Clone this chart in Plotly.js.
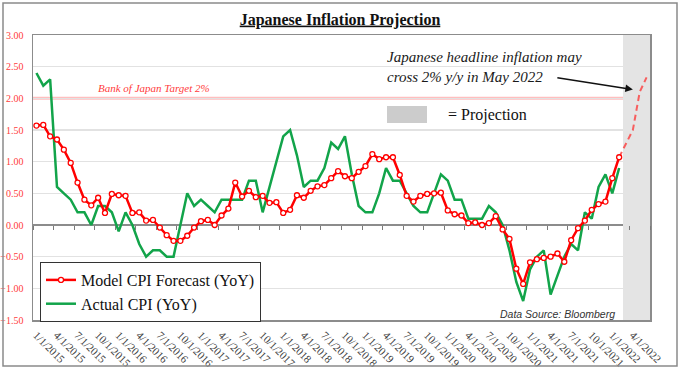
<!DOCTYPE html>
<html>
<head>
<meta charset="utf-8">
<script src="https://cdn.plot.ly/plotly-3.0.1.min.js"></script>
<style>html,body{margin:0;padding:0;background:#fff;}#chart{width:680px;height:368px;}</style>
</head>
<body>
<div id="chart"></div>
<script>
// Monthly categories, Jan 2015 .. Jun 2022
const categories = [
 "1/1/2015","2/1/2015","3/1/2015","4/1/2015","5/1/2015","6/1/2015","7/1/2015","8/1/2015","9/1/2015","10/1/2015","11/1/2015","12/1/2015",
 "1/1/2016","2/1/2016","3/1/2016","4/1/2016","5/1/2016","6/1/2016","7/1/2016","8/1/2016","9/1/2016","10/1/2016","11/1/2016","12/1/2016",
 "1/1/2017","2/1/2017","3/1/2017","4/1/2017","5/1/2017","6/1/2017","7/1/2017","8/1/2017","9/1/2017","10/1/2017","11/1/2017","12/1/2017",
 "1/1/2018","2/1/2018","3/1/2018","4/1/2018","5/1/2018","6/1/2018","7/1/2018","8/1/2018","9/1/2018","10/1/2018","11/1/2018","12/1/2018",
 "1/1/2019","2/1/2019","3/1/2019","4/1/2019","5/1/2019","6/1/2019","7/1/2019","8/1/2019","9/1/2019","10/1/2019","11/1/2019","12/1/2019",
 "1/1/2020","2/1/2020","3/1/2020","4/1/2020","5/1/2020","6/1/2020","7/1/2020","8/1/2020","9/1/2020","10/1/2020","11/1/2020","12/1/2020",
 "1/1/2021","2/1/2021","3/1/2021","4/1/2021","5/1/2021","6/1/2021","7/1/2021","8/1/2021","9/1/2021","10/1/2021","11/1/2021","12/1/2021",
 "1/1/2022","2/1/2022","3/1/2022","4/1/2022","5/1/2022","6/1/2022"
];
const tickLabels = [
 "1/1/2015","4/1/2015","7/1/2015","10/1/2015","1/1/2016","4/1/2016","7/1/2016","10/1/2016",
 "1/1/2017","4/1/2017","7/1/2017","10/1/2017","1/1/2018","4/1/2018","7/1/2018","10/1/2018",
 "1/1/2019","4/1/2019","7/1/2019","10/1/2019","1/1/2020","4/1/2020","7/1/2020","10/1/2020",
 "1/1/2021","4/1/2021","7/1/2021","10/1/2021","1/1/2022","4/1/2022"
];
// Model CPI Forecast (YoY), Jan 2015 .. Feb 2022
const modelCPI = [
 1.57,1.58,1.40,1.35,1.19,0.98,0.67,0.40,0.31,0.43,0.19,0.49,
 0.47,0.46,0.19,0.20,0.07,0.08,-0.04,-0.16,-0.25,-0.25,-0.17,-0.04,
 0.06,0.08,0.00,0.15,0.26,0.67,0.45,0.54,0.44,0.46,0.35,0.36,
 0.19,0.24,0.47,0.43,0.54,0.61,0.63,0.74,0.85,0.77,0.74,0.84,
 0.93,1.12,1.04,1.07,1.07,0.79,0.46,0.37,0.46,0.49,0.50,0.51,
 0.23,0.17,0.15,0.03,0.04,0.00,0.03,0.14,-0.07,-0.22,-0.69,-0.93,
 -0.59,-0.54,-0.52,-0.50,-0.45,-0.58,-0.24,-0.05,0.07,0.24,0.33,0.37,
 0.74,1.07
];
// Actual CPI (YoY), Jan 2015 .. Feb 2022
const actualCPI = [
 2.4,2.2,2.3,0.6,0.5,0.4,0.2,0.2,0.0,0.3,0.3,0.2,
 -0.1,0.2,0.0,-0.3,-0.5,-0.4,-0.4,-0.5,-0.5,0.0,0.5,0.3,
 0.4,0.3,0.2,0.4,0.4,0.4,0.4,0.7,0.7,0.2,0.6,1.0,
 1.4,1.5,1.1,0.6,0.7,0.7,0.9,1.3,1.2,1.4,0.8,0.3,
 0.2,0.2,0.5,0.9,0.7,0.7,0.5,0.3,0.2,0.2,0.5,0.8,
 0.7,0.4,0.4,0.1,0.1,0.1,0.3,0.2,0.0,-0.4,-0.9,-1.2,
 -0.7,-0.5,-0.4,-1.1,-0.8,-0.5,-0.3,-0.4,0.2,0.1,0.6,0.8,
 0.5,0.9
];
// Projection, Feb 2022 .. Jun 2022 (starts at last model value)
const projectionCPI = [1.07,1.28,1.50,2.10,2.33];
const bojTarget = 2.0;
const yMin = -1.5, yMax = 3.0;

const serif = "Liberation Serif, Times New Roman, serif";
const idx = (arr, start) => arr.map((_, i) => i + start);
const lastActual = modelCPI.length - 1;
const projX = idx(projectionCPI, lastActual);
const shadeX = categories.map((_, i) => i).filter(i => i > lastActual);
const tickvals = tickLabels.map(l => categories.indexOf(l));
const nCat = categories.length;

const traces = [
  { type: 'bar', x: shadeX, y: shadeX.map(() => yMax - yMin), base: yMin,
    width: 1, marker: { color: '#e4e4e4', line: { width: 0 } }, showlegend: false, hoverinfo: 'skip' },
  { type: 'scatter', mode: 'lines', name: 'Actual CPI (YoY)', x: idx(actualCPI, 0), y: actualCPI,
    line: { color: '#12a44a', width: 2.5 }, legendrank: 2 },
  { type: 'scatter', mode: 'lines', x: projX, y: projectionCPI, showlegend: false,
    line: { color: 'rgba(250,70,70,0.85)', width: 2, dash: '6px,4px' } },
  { type: 'scatter', mode: 'lines+markers', name: 'Model CPI Forecast (YoY)', x: idx(modelCPI, 0), y: modelCPI,
    line: { color: '#ff0000', width: 2.5 },
    marker: { symbol: 'circle', size: 5, color: '#ffffff', line: { color: '#ff0000', width: 1.3 } }, legendrank: 1 },
  { type: 'scatter', mode: 'markers', x: [0], y: [0], xaxis: 'x2', marker: { opacity: 0 },
    showlegend: false, hoverinfo: 'skip' }
];

const W = 680, H = 368, L = 33, R = 30, T = 35, B = 48;
const pw = W - L - R, ph = H - T - B;
const px = v => (v - L) / pw;
const py = v => (H - B - v) / ph;

const layout = {
  width: W, height: H,
  margin: { l: L, r: R, t: T, b: B, pad: 0 },
  paper_bgcolor: '#ffffff', plot_bgcolor: '#ffffff',
  bargap: 0,
  showlegend: true,
  title: { text: '<b><u>Japanese Inflation Projection</u></b>', font: { family: serif, size: 16, color: '#111' },
           x: 0.5, xref: 'container', y: 1 - 19 / H, yref: 'container', yanchor: 'middle' },
  xaxis: {
    range: [-0.5, nCat - 0.5], tickmode: 'array', tickvals: tickvals, ticktext: tickLabels,
    tickangle: 45, tickfont: { family: serif, size: 11, color: '#404040' },
    ticks: 'outside', ticklen: 3, tickcolor: 'rgba(0,0,0,0)',
    showgrid: false, zeroline: false, showline: true, mirror: true, linecolor: '#8c8c8c', linewidth: 1.5
  },
  xaxis2: {
    overlaying: 'x', anchor: 'free', position: (0 - yMin) / (yMax - yMin), side: 'bottom',
    range: [-0.5, nCat - 0.5], tickmode: 'linear', tick0: 2.5, dtick: 3,
    ticks: 'outside', ticklen: 4, tickwidth: 1, tickcolor: '#7a7a7a',
    showticklabels: false, showgrid: false, zeroline: false, showline: false
  },
  yaxis: {
    range: [yMin, yMax], dtick: 0.5, tickformat: '.2f',
    tickfont: { family: serif, size: 10, color: '#ff3b3b' },
    ticks: 'outside', ticklen: 6, tickcolor: 'rgba(0,0,0,0)',
    showgrid: true, gridcolor: '#e2e2e2', gridwidth: 1.3,
    zeroline: true, zerolinecolor: '#8c8c8c', zerolinewidth: 1.5,
    showline: true, mirror: true, linecolor: '#8c8c8c', linewidth: 1.5
  },
  legend: {
    x: px(40), y: py(262), xanchor: 'left', yanchor: 'top',
    bgcolor: '#ffffff', bordercolor: '#333333', borderwidth: 1,
    font: { family: serif, size: 16, color: '#111' },
    tracegroupgap: 0, itemwidth: 30
  },
  shapes: [
    { type: 'line', xref: 'paper', x0: 0, x1: 1, yref: 'y', y0: bojTarget, y1: bojTarget,
      line: { color: 'rgba(255,70,70,0.35)', width: 3 }, layer: 'below' },
    { type: 'rect', xref: 'paper', yref: 'paper', x0: px(387), x1: px(427), y0: py(123), y1: py(106),
      fillcolor: '#cccccc', line: { width: 0 } },
    { type: 'rect', xref: 'paper', yref: 'paper', x0: px(3), x1: px(677), y0: py(366), y1: py(3),
      fillcolor: 'rgba(0,0,0,0)', line: { color: '#8a8a8a', width: 1.5 } }
  ],
  annotations: [
    { xref: 'paper', yref: 'y', x: px(154), y: bojTarget, yshift: 10, xanchor: 'center', yanchor: 'middle',
      text: '<i>Bank of Japan Target 2%</i>', showarrow: false,
      font: { family: serif, size: 11, color: '#ff3b3b' } },
    { xref: 'paper', yref: 'paper', x: px(385), y: py(66.5), xanchor: 'left', yanchor: 'middle', align: 'left',
      text: '<i>Japanese headline inflation may<br>cross 2% y/y in May 2022</i>', showarrow: false,
      font: { family: serif, size: 15, color: '#1a1a1a' } },
    { xref: 'x', yref: 'y', x: 87, y: 2.14, ax: -77, ay: -12, axref: 'pixel', ayref: 'pixel',
      text: '', showarrow: true, arrowhead: 2, arrowsize: 1, arrowwidth: 1.5, arrowcolor: '#111' },
    { xref: 'paper', yref: 'paper', x: px(446), y: py(115), xanchor: 'left', yanchor: 'middle',
      text: '= Projection', showarrow: false, font: { family: serif, size: 16, color: '#111' } },
    { xref: 'paper', yref: 'paper', x: px(617), y: py(314), xanchor: 'right', yanchor: 'middle',
      text: '<i>Data Source: Bloomberg</i>', showarrow: false,
      font: { family: 'Liberation Sans, Arial, sans-serif', size: 10.5, color: '#333' } }
  ]
};

Plotly.newPlot('chart', traces, layout, { staticPlot: true, displayModeBar: false });
</script>
</body>
</html>
